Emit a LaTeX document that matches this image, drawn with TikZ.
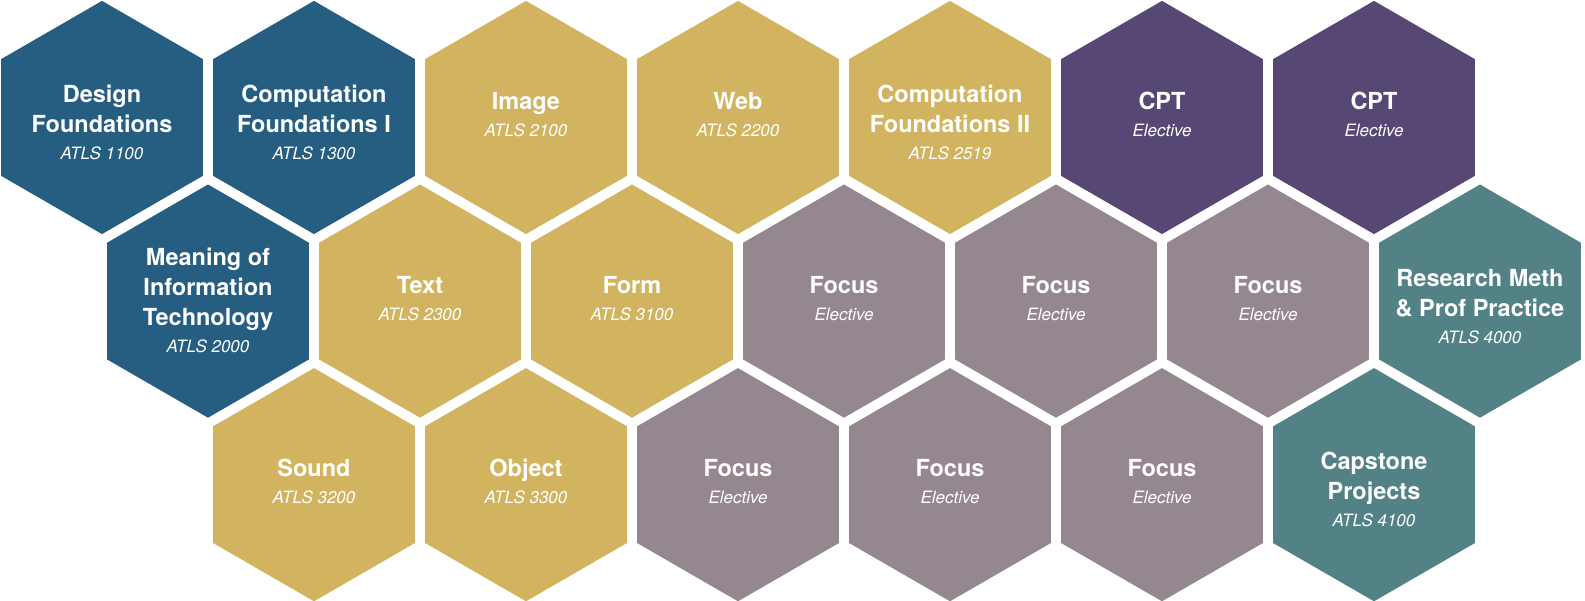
\documentclass[tikz,border=0pt]{standalone}
\usepackage{fontspec}
\setmainfont{TeX Gyre Heros}
\usetikzlibrary{shapes.geometric,positioning}

\definecolor{hexblue}{HTML}{265E81}
\definecolor{hexgold}{HTML}{D2B460}
\definecolor{hexpurple}{HTML}{574775}
\definecolor{hexmauve}{HTML}{95878F}
\definecolor{hexteal}{HTML}{528285}

\newcommand{\subline}[1]{{\fontsize{17}{20}\selectfont\mdseries\itshape #1}}

\tikzset{
  hexcell/.style={regular polygon, regular polygon sides=6, regular polygon rotate=30,
    minimum size=233.2pt, inner sep=0pt, outer sep=0pt, fill=#1},
  hexcell/.default=gray,
  hextext/.style={text=white, align=center, inner sep=0pt,
    font=\fontsize{23.5}{30}\selectfont\bfseries, yshift=#1},
  hextext/.default=-5pt
}

\begin{document}
\begin{tikzpicture}[node distance=212pt,on grid]
    \useasboundingbox (0,0) rectangle (1585pt,601pt);

    % first row
    \node[hexcell=hexblue] (design) at (102pt,483.5pt) {};
    \node[hexcell=hexblue] (compone) [right=of design] {};
    \node[hexcell=hexgold] (image) [right=of compone] {};
    \node[hexcell=hexgold] (web) [right=of image] {};
    \node[hexcell=hexgold] (comptwo) [right=of web] {};
    \node[hexcell=hexpurple] (cptone) [right=of comptwo] {};
    \node[hexcell=hexpurple] (cpttwo) [right=of cptone] {};

    % second row
    \node[hexcell=hexblue] (meaning) [below right=183.6pt and 106pt of design] {};
    \node[hexcell=hexgold] (txt) [right=of meaning] {};
    \node[hexcell=hexgold] (form) [right=of txt] {};
    \node[hexcell=hexmauve] (focusone) [right=of form] {};
    \node[hexcell=hexmauve] (focustwo) [right=of focusone] {};
    \node[hexcell=hexmauve] (focusthree) [right=of focustwo] {};
    \node[hexcell=hexteal] (research) [right=of focusthree] {};

    % third row
    \node[hexcell=hexgold] (sound) [below right=183.6pt and 106pt of meaning] {};
    \node[hexcell=hexgold] (object) [right=of sound] {};
    \node[hexcell=hexmauve] (focusfour) [right=of object] {};
    \node[hexcell=hexmauve] (focusfive) [right=of focusfour] {};
    \node[hexcell=hexmauve] (focussix) [right=of focusfive] {};
    \node[hexcell=hexteal] (capstone) [right=of focussix] {};

    % labels
    \node[hextext] (design-t) at (design) {Design\\Foundations\\[-3pt]\subline{ATLS 1100}};
    \node[hextext] (compone-t) at (compone) {Computation\\Foundations I\\[-3pt]\subline{ATLS 1300}};
    \node[hextext=3pt] (image-t) at (image) {Image\\[-3pt]\subline{ATLS 2100}};
    \node[hextext=3pt] (web-t) at (web) {Web\\[-3pt]\subline{ATLS 2200}};
    \node[hextext] (comptwo-t) at (comptwo) {Computation\\Foundations II\\[-3pt]\subline{ATLS 2519}};
    \node[hextext=3pt] (cptone-t) at (cptone) {CPT\\[-3pt]\subline{Elective}};
    \node[hextext=3pt] (cpttwo-t) at (cpttwo) {CPT\\[-3pt]\subline{Elective}};

    \node[hextext=1pt] (meaning-t) at (meaning) {Meaning of\\Information\\Technology\\[-3pt]\subline{ATLS 2000}};
    \node[hextext=3pt] (txt-t) at (txt) {Text\\[-3pt]\subline{ATLS 2300}};
    \node[hextext=3pt] (form-t) at (form) {Form\\[-3pt]\subline{ATLS 3100}};
    \node[hextext=3pt] (focusone-t) at (focusone) {Focus\\[-3pt]\subline{Elective}};
    \node[hextext=3pt] (focustwo-t) at (focustwo) {Focus\\[-3pt]\subline{Elective}};
    \node[hextext=3pt] (focusthree-t) at (focusthree) {Focus\\[-3pt]\subline{Elective}};
    \node[hextext] (research-t) at (research) {Research Meth\\\& Prof Practice\\[-3pt]\subline{ATLS 4000}};

    \node[hextext=3pt] (sound-t) at (sound) {Sound\\[-3pt]\subline{ATLS 3200}};
    \node[hextext=3pt] (object-t) at (object) {Object\\[-3pt]\subline{ATLS 3300}};
    \node[hextext=3pt] (focusfour-t) at (focusfour) {Focus\\[-3pt]\subline{Elective}};
    \node[hextext=3pt] (focusfive-t) at (focusfive) {Focus\\[-3pt]\subline{Elective}};
    \node[hextext=3pt] (focussix-t) at (focussix) {Focus\\[-3pt]\subline{Elective}};
    \node[hextext] (capstone-t) at (capstone) {Capstone\\Projects\\[-3pt]\subline{ATLS 4100}};
\end{tikzpicture}
\end{document}
